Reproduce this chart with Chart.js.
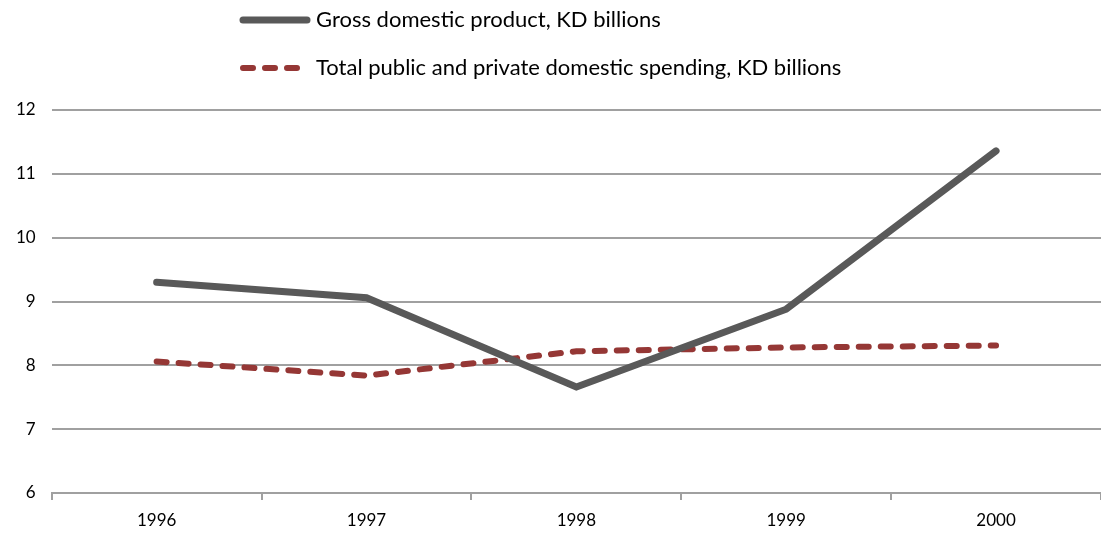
<!DOCTYPE html>
<html lang="en">
<head>
  <meta charset="UTF-8">
  <title>GDP vs domestic spending</title>
  <script src="https://cdn.jsdelivr.net/npm/chart.js"></script>
  <style>
    body { margin: 0; background: #fff; }
    #chartContainer { width: 1101px; height: 533px; position: relative; }
  </style>
</head>
<body>
  <div id="chartContainer">
    <canvas id="myChart"></canvas>
  </div>

  <script>
    // Datos
    const years = ['1996', '1997', '1998', '1999', '2000'];
    const gdp = [9.30, 9.06, 7.66, 8.88, 11.36];
    const spending = [8.06, 7.84, 8.22, 8.28, 8.31];
    const gdpLabel = 'Gross domestic product, KD billions';
    const spendingLabel = 'Total public and private domestic spending, KD billions';

    const fontFamily = 'Lato, "Open Sans", sans-serif';

    // Leyenda vertical dibujada en el canvas
    const stackedLegend = {
      id: 'stackedLegend',
      afterDraw(chart) {
        const ctx = chart.ctx;
        const x0 = 243, x1 = 307, textX = 316;
        const rows = [20, 68];
        ctx.save();
        chart.data.datasets.forEach((ds, i) => {
          const y = rows[i];
          ctx.beginPath();
          ctx.strokeStyle = ds.borderColor;
          ctx.lineWidth = ds.borderWidth;
          ctx.lineCap = 'round';
          ctx.setLineDash(ds.borderDash || []);
          ctx.moveTo(x0, y);
          ctx.lineTo(x1, y);
          ctx.stroke();
          ctx.setLineDash([]);
          ctx.fillStyle = '#000';
          ctx.font = '22px ' + fontFamily;
          ctx.textBaseline = 'middle';
          ctx.fillText(ds.label, textX, y);
        });
        ctx.restore();
      }
    };

    const ctx = document.getElementById('myChart').getContext('2d');
    new Chart(ctx, {
      type: 'line',
      data: {
        labels: years,
        datasets: [
          {
            label: gdpLabel,
            data: gdp,
            borderColor: '#595959',
            borderWidth: 7,
            borderCapStyle: 'round',
            borderJoinStyle: 'miter',
            pointRadius: 0,
            tension: 0,
            fill: false
          },
          {
            label: spendingLabel,
            data: spending,
            borderColor: '#953735',
            borderWidth: 6,
            borderDash: [10, 12],
            borderCapStyle: 'round',
            pointRadius: 0,
            tension: 0,
            fill: false
          }
        ]
      },
      options: {
        responsive: true,
        maintainAspectRatio: false,
        animation: false,
        layout: { padding: { top: 110, left: 0, right: 0, bottom: -8 } },
        plugins: {
          legend: { display: false },
          tooltip: { enabled: false }
        },
        scales: {
          x: {
            offset: true,
            border: { color: '#a0a0a0', width: 2 },
            grid: {
              offset: true,
              drawOnChartArea: false,
              drawTicks: true,
              tickLength: 7,
              color: '#a0a0a0',
              lineWidth: 2
            },
            ticks: {
              color: '#000',
              padding: 12,
              font: { family: fontFamily, size: 17, lineHeight: 1 }
            }
          },
          y: {
            min: 6,
            max: 12,
            border: { display: false },
            grid: {
              color: '#a0a0a0',
              lineWidth: 2,
              drawTicks: false
            },
            ticks: {
              stepSize: 1,
              color: '#000',
              padding: 16,
              font: { family: fontFamily, size: 17 }
            }
          }
        }
      },
      plugins: [stackedLegend]
    });
  </script>
</body>
</html>
